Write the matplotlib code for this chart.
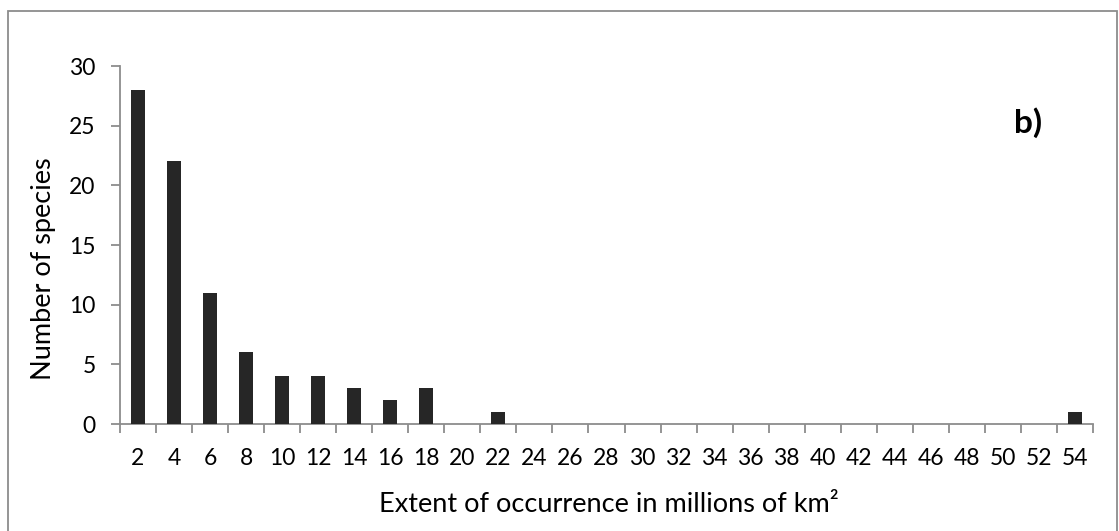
import numpy as np
import matplotlib
matplotlib.use("Agg")
import matplotlib.pyplot as plt
from matplotlib.patches import Rectangle

plt.rcParams['font.family'] = ['Lato', 'DejaVu Sans']

# histogram data
categories = [str(v) for v in range(2, 56, 2)]
counts = [28, 22, 11, 6, 4, 4, 3, 2, 3, 0, 1, 0, 0, 0, 0, 0, 0, 0, 0, 0, 0, 0, 0, 0, 0, 0, 1]
y_ticks = [0, 5, 10, 15, 20, 25, 30]

fig = plt.figure(figsize=(11.19, 5.31), dpi=100)
ax = fig.add_axes([0.1072, 0.2015, 0.8696, 0.6742])

x = np.arange(len(categories))
ax.bar(x, counts, width=0.39, color='#262626', zorder=3)

ax.set_xlim(-0.5, len(categories) - 0.5)
ax.set_ylim(0, 30)
ax.set_yticks(y_ticks)
ax.set_xticks(x)
ax.set_xticklabels(categories)
ax.set_xticks(np.arange(-0.5, len(categories), 1.0), minor=True)

grey = '#8c8c8c'
for s in ['top', 'right']:
    ax.spines[s].set_visible(False)
for s in ['left', 'bottom']:
    ax.spines[s].set_color(grey)
    ax.spines[s].set_linewidth(1.3)

ax.tick_params(axis='x', which='major', length=0, pad=17, labelsize=16.5)
ax.tick_params(axis='x', which='minor', length=6.5, color=grey, width=1.3, direction='out')
ax.tick_params(axis='y', length=6.5, color=grey, width=1.3, direction='out', labelsize=16.5, pad=11)

ax.set_ylabel('Number of species', fontsize=19.5, va='center', ha='center')
ax.yaxis.set_label_coords(-0.079, 0.434)
ax.set_xlabel('Extent of occurrence in millions of km²', fontsize=19.5, va='center', ha='center')
ax.xaxis.set_label_coords(0.5026, -0.2235)

fig.text(0.9187, 0.770, 'b)', fontsize=24, fontweight='bold', ha='center', va='center')

# outer chart border
fig.patches.append(Rectangle((0.0075, -0.01), 0.9906, 0.9897, transform=fig.transFigure,
                             fill=False, edgecolor=grey, linewidth=1.3))

fig.savefig('out.png', dpi=100)
